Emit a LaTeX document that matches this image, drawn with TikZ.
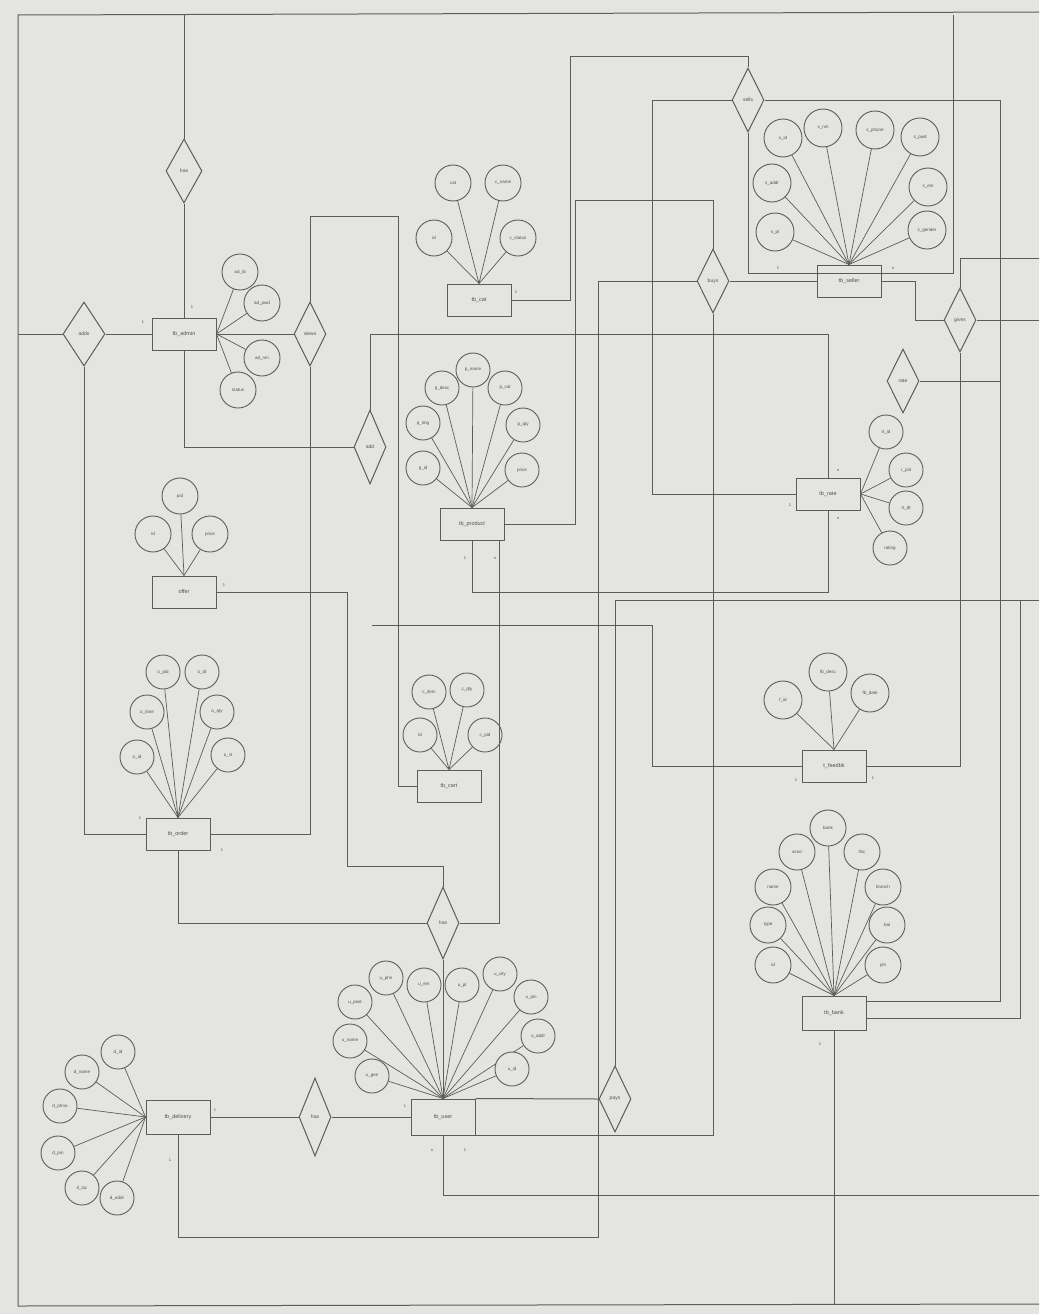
\documentclass[tikz,border=0pt]{standalone}
\usepackage{fontspec}
\setmainfont{Liberation Sans}
\usetikzlibrary{shapes.geometric,positioning}

\definecolor{paper}{RGB}{228,228,225}
\definecolor{ink}{RGB}{92,92,92}
\definecolor{lbl}{RGB}{80,80,80}

\tikzset{
  entity/.style={draw=ink, fill=paper, line width=1pt, minimum width=64pt, minimum height=32pt, inner sep=1pt, text=lbl, font=\fontsize{5.5}{6.5}\selectfont},
  attr/.style={draw=ink, fill=paper, circle, line width=0.9pt, minimum size=36pt, inner sep=0pt, text=lbl, font=\fontsize{4.5}{5.5}\selectfont},
  rel/.style={draw=ink, fill=paper, diamond, aspect=0.5, line width=1pt, minimum width=32pt, minimum height=64pt, inner sep=0pt, text=lbl, font=\fontsize{5}{6}\selectfont},
  card/.style={text=lbl, font=\fontsize{4}{5}\selectfont, inner sep=0pt},
  link/.style={draw=ink, line width=1pt},
  spoke/.style={draw=ink, line width=0.7pt}
}

\begin{document}
\begin{tikzpicture}[x=1pt,y=-1pt]
    \useasboundingbox (0,0) rectangle (1039,1314);
    \fill[paper] (0,0) rectangle (1039,1314);

    % Page border
    \draw[link] (1039,12) -- (18,15) -- (18,1306) -- (1039,1304);

    % Free ends
    \coordinate (topA) at (184,15);
    \coordinate (leftA) at (18,334);
    \coordinate (topB) at (953,15);
    \coordinate (eastA) at (1039,258);
    \coordinate (eastB) at (1039,320);
    \coordinate (eastC) at (1039,600);
    \coordinate (eastD) at (1039,1195);
    \coordinate (botA) at (834,1305);
    \coordinate (loose) at (372,625);

    % Entities
    \node[entity] (admin) at (184,334) {tb\_admin};
    \node[entity] (cat) at (479,300) {tb\_cat};
    \node[entity] (seller) at (849,281) {tb\_seller};
    \node[entity] (product) at (472,524) {tb\_product};
    \node[entity] (offer) at (184,592) {offer};
    \node[entity] (order) at (178,834) {tb\_order};
    \node[entity] (cart) at (449,786) {tb\_cart};
    \node[entity] (rate) at (828,494) {tb\_rate};
    \node[entity] (feedbk) at (834,766) {t\_feedbk};
    \node[entity, minimum height=34pt] (bank) at (834,1013) {tb\_bank};
    \node[entity, minimum height=36pt] (user) at (443,1117) {tb\_user};
    \node[entity, minimum height=34pt] (deliv) at (178,1117) {tb\_delivery};

    % Relations
    \node[rel, minimum width=36pt] (rTop) at (184,171) {has};
    \node[rel, minimum width=42pt] (rAdds) at (84,334) {adds};
    \node[rel] (rViews) at (310,334) {views};
    \node[rel, minimum height=74pt] (rAdd) at (370,447) {add};
    \node[rel] (rSells) at (748,100) {sells};
    \node[rel, minimum height=72pt] (rHas) at (443,923) {has};
    \node[rel, minimum height=66pt] (rPays) at (615,1099) {pays};
    \node[rel] (rBuys) at (713,281) {buys};
    \node[rel, minimum height=78pt] (rPlace) at (315,1117) {has};
    \node[rel] (rRate) at (903,381) {rate};
    \node[rel] (rGives) at (960,320) {gives};

    % Attributes
    \foreach \ax/\ay/\lbl [count=\i] in {240/272/ad\_id, 262/303/ad\_pwd, 262/358/ad\_nm, 238/390/status}{
        \node[attr] (adm\i) at (\ax,\ay) {\lbl};
        \draw[spoke] (adm\i) -- (admin.east);
    }
    \foreach \ax/\ay/\lbl [count=\i] in {453/183/cat, 503/183/c\_name, 434/238/id, 518/238/c\_status}{
        \node[attr] (cat\i) at (\ax,\ay) {\lbl};
        \draw[spoke] (cat\i) -- (cat.north);
    }
    \foreach \ax/\ay/\lbl [count=\i] in {783/138/s\_id, 823/128/s\_nm, 875/130/s\_phone, 920/137/s\_pwd, 772/183/s\_addr, 928/187/s\_em, 775/232/s\_pl, 927/230/s\_gender}{
        \node[attr, minimum size=38pt] (sel\i) at (\ax,\ay) {\lbl};
        \draw[spoke] (sel\i) -- (seller.north);
    }
    \foreach \ax/\ay/\lbl [count=\i] in {473/370/p\_name, 442/388/p\_desc, 505/388/p\_cat, 423/423/p\_img, 523/425/p\_qty, 423/468/p\_id, 522/470/price}{
        \node[attr, minimum size=34pt] (pro\i) at (\ax,\ay) {\lbl};
        \draw[spoke] (pro\i) -- (product.north);
    }
    \foreach \ax/\ay/\lbl [count=\i] in {153/534/id, 180/496/pid, 210/534/price}{
        \node[attr] (off\i) at (\ax,\ay) {\lbl};
        \draw[spoke] (off\i) -- (offer.north);
    }
    \foreach \ax/\ay/\lbl [count=\i] in {163/672/o\_pid, 202/672/o\_dt, 147/712/o\_time, 217/712/o\_qty, 137/757/o\_id, 228/755/o\_st}{
        \node[attr, minimum size=34pt] (ord\i) at (\ax,\ay) {\lbl};
        \draw[spoke] (ord\i) -- (order.north);
    }
    \foreach \ax/\ay/\lbl [count=\i] in {429/692/c\_item, 467/690/c\_qty, 420/735/id, 485/735/c\_pid}{
        \node[attr, minimum size=34pt] (crt\i) at (\ax,\ay) {\lbl};
        \draw[spoke] (crt\i) -- (cart.north);
    }
    \foreach \ax/\ay/\lbl [count=\i] in {886/432/rt\_id, 906/470/r\_pid, 906/508/rt\_dt, 890/548/rating}{
        \node[attr, minimum size=34pt] (rat\i) at (\ax,\ay) {\lbl};
        \draw[spoke] (rat\i) -- (rate.east);
    }
    \foreach \ax/\ay/\lbl [count=\i] in {783/700/f\_id, 828/672/fb\_desc, 870/693/fb\_date}{
        \node[attr, minimum size=38pt] (fdb\i) at (\ax,\ay) {\lbl};
        \draw[spoke] (fdb\i) -- (feedbk.north);
    }
    \foreach \ax/\ay/\lbl [count=\i] in {828/828/bank, 797/852/acno, 862/852/ifsc, 773/887/name, 883/887/branch, 768/925/type, 887/925/bal, 773/965/id, 883/965/pin}{
        \node[attr] (bnk\i) at (\ax,\ay) {\lbl};
        \draw[spoke] (bnk\i) -- (bank.north);
    }
    \foreach \ax/\ay/\lbl [count=\i] in {355/1002/u\_pwd, 386/978/u\_phn, 424/985/u\_em, 462/985/u\_pl, 500/974/u\_city, 531/997/u\_pin, 538/1036/u\_addr, 512/1069/u\_id, 350/1041/u\_name, 372/1076/u\_gen}{
        \node[attr, minimum size=34pt] (usr\i) at (\ax,\ay) {\lbl};
        \draw[spoke] (usr\i) -- (user.north);
    }
    \foreach \ax/\ay/\lbl [count=\i] in {118/1052/d\_id, 82/1072/d\_name, 60/1106/d\_phno, 58/1153/d\_pin, 82/1188/d\_loc, 117/1198/d\_addr}{
        \node[attr, minimum size=34pt] (dlv\i) at (\ax,\ay) {\lbl};
        \draw[spoke] (dlv\i) -- (deliv.west);
    }

    % Cardinalities
    \foreach \ax/\ay/\lbl [count=\i] in {192/307/1, 143/322/1, 140/818/1, 222/850/1, 224/585/1, 516/292/1, 778/268/1, 893/268/n, 465/558/1, 495/558/n, 790/505/1, 838/470/n, 838/518/n, 796/780/1, 873/778/1, 820/1044/1, 405/1106/1, 432/1150/n, 465/1150/1, 215/1110/1, 170/1160/1}{
        \node[card] (crd\i) at (\ax,\ay) {\lbl};
    }

    % Links
    \draw[link] (topA) -- (rTop.north);
    \draw[link] (rTop.south) -- (admin.north);
    \draw[link] (leftA) -- (rAdds.west);
    \draw[link] (rAdds.east) -- (admin.west);
    \draw[link] (admin.east) -- (rViews.west);
    \draw[link] (admin.south) |- (rAdd.west);
    \draw[link] (rAdds.south) |- (order.west);
    \draw[link] (rViews.south) |- (order.east);
    \draw[link] (rViews.north) |- (398,216) |- (cart.west);
    \draw[link] (rAdd.north) |- (828,334) -- (rate.north);
    \draw[link] (cat.east) -| (570,57) -| (rSells.north);
    \draw[link] (rSells.south) |- (953,273) -- (topB);
    \draw[link] (rSells.west) -| (652,494) -- (rate.west);
    \draw[link] (rSells.east) -| (1000,381);
    \draw[link] (rRate.east) -- (1000,381) |- ([yshift=12pt]bank.east);
    \draw[link] ([yshift=-5pt]bank.east) -| (1020,600);
    \draw[link] (rPays.north) |- (eastC);
    \draw[link] (user.north east) -- (rPays.west);
    \draw[link] (user.south east) -| (rBuys.south);
    \draw[link] (product.east) -| (575,200) -| (rBuys.north);
    \draw[link] (rBuys.west) -| (598,1237) -| (deliv.south);
    \draw[link] (rBuys.east) -- (seller.west);
    \draw[link] (product.south) -- (472,592) -| (rate.south);
    \draw[link] (offer.east) -| (347,866) -| (rHas.north);
    \draw[link] (rHas.west) -| (order.south);
    \draw[link] (rHas.east) -| ([xshift=-5pt]product.south east);
    \draw[link] (rHas.south) -- (user.north);
    \draw[link] (deliv.east) -- (rPlace.west);
    \draw[link] (rPlace.east) -- (user.west);
    \draw[link] (user.south) |- (eastD);
    \draw[link] (feedbk.west) -| (652,625) -- (loose);
    \draw[link] (feedbk.east) -| (rGives.south);
    \draw[link] (rGives.north) |- (eastA);
    \draw[link] (rGives.east) -- (eastB);
    \draw[link] (seller.east) -- (915,281) |- (rGives.west);
    \draw[link] (bank.south) -- (botA);
\end{tikzpicture}
\end{document}
